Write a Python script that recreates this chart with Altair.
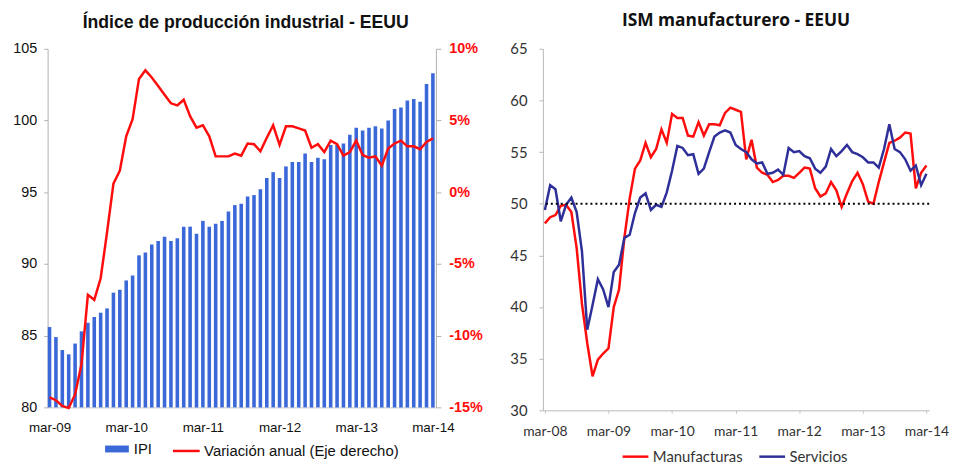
import altair as alt
import pandas as pd

# ---------------- data: left panel (IPI, mar-09 .. mar-14) ----------------
ipi_ticks = ["mar-09", "mar-10", "mar-11", "mar-12", "mar-13", "mar-14"]
ipi = [85.6, 84.9, 84.0, 83.7, 84.45, 85.3, 85.9, 86.3, 86.6, 86.9,
       88.0, 88.2, 88.85, 89.2, 90.6, 90.8, 91.35, 91.6, 91.9, 91.6,
       91.8, 92.6, 92.6, 92.1, 93.0, 92.6, 92.8, 93.0, 93.65, 94.1,
       94.2, 94.7, 94.8, 95.2, 96.0, 96.4, 96.0, 96.8, 97.1, 97.1,
       97.7, 97.1, 97.4, 97.3, 98.3, 98.3, 98.4, 99.0, 99.5, 99.3,
       99.5, 99.6, 99.45, 100.0, 100.8, 100.9, 101.4, 101.5, 101.3, 102.55,
       103.3]
ipi_var = [-14.3, -14.5, -14.9, -15.05, -14.1, -12.0, -7.15, -7.5, -6.0, -2.8,
           0.6, 1.5, 3.9, 5.1, 7.9, 8.5, 8.0, 7.4, 6.8, 6.2,
           6.05, 6.45, 5.3, 4.5, 4.67, 3.9, 2.5, 2.5, 2.5, 2.7,
           2.55, 3.4, 3.35, 2.85, 3.8, 4.67, 3.3, 4.6, 4.6, 4.45,
           4.3, 3.1, 3.35, 2.8, 3.6, 3.35, 2.55, 2.8, 3.6, 2.6,
           2.4, 2.5, 1.85, 3.05, 3.4, 3.6, 3.2, 3.2, 3.0, 3.5,
           3.75]

# ---------------- data: right panel (ISM, mar-08 .. mar-14) ----------------
ism_ticks = ["mar-08", "mar-09", "mar-10", "mar-11", "mar-12", "mar-13", "mar-14"]
manufacturas = [48.1, 48.7, 48.9, 49.8, 49.9, 49.2, 45.7, 40.3, 36.5, 33.3,
                34.9, 35.5, 36.0, 40.0, 41.7, 46.7, 50.5, 53.4, 54.2, 55.9,
                54.5, 55.3, 57.2, 55.9, 58.7, 58.3, 58.3, 56.6, 56.5, 57.9,
                56.6, 57.7, 57.7, 57.6, 58.8, 59.3, 59.1, 58.9, 54.3, 56.2,
                53.5, 53.0, 52.8, 52.1, 52.3, 52.7, 52.7, 52.5, 53.0, 53.5,
                53.4, 51.5, 50.7, 51.0, 52.1, 51.3, 49.7, 51.0, 52.2, 53.0,
                51.9, 50.2, 50.0, 52.1, 54.0, 55.9, 56.1, 56.4, 56.9, 56.8,
                51.5, 53.0, 53.7]
servicios = [49.4, 51.8, 51.4, 48.3, 49.9, 50.6, 49.2, 45.4, 37.8, 40.2,
             42.7, 41.7, 40.0, 43.4, 44.1, 46.7, 47.0, 49.1, 50.6, 51.0,
             49.4, 49.9, 49.7, 51.1, 53.2, 55.6, 55.4, 54.7, 54.8, 52.9,
             53.4, 55.0, 56.5, 56.9, 57.1, 56.9, 55.7, 55.3, 55.0, 54.3,
             53.9, 54.0, 52.9, 53.0, 53.3, 52.8, 55.4, 55.0, 55.1, 54.6,
             54.4, 53.4, 53.0, 53.6, 55.3, 54.6, 55.1, 55.7, 55.0, 54.8,
             54.5, 54.0, 54.0, 53.5, 55.3, 57.7, 55.3, 55.0, 54.3, 53.2,
             53.7, 51.8, 52.9]
threshold = 50

series_names = ["Manufacturas", "Servicios"]
ipi_names = ["IPI", "Variación anual (Eje derecho)"]

BLUE_BAR = "#3a68d8"
RED = "#ff0d0d"
NAVY = "#2e2f98"

ARIAL = "Liberation Sans"
LATO = "Lato"
OPEN = "Open Sans"

# ---------------- left chart ----------------
left_df = pd.DataFrame({
    "i": list(range(len(ipi))),
    "ipi": ipi,
    "var": ipi_var,
    "s_ipi": ipi_names[0],
    "s_var": ipi_names[1],
})

ipi_label_expr = "[" + ",".join("'%s'" % t for t in ipi_ticks) + "][round(datum.value/12)]"
xl = alt.X("i:Q",
           scale=alt.Scale(domain=[-0.3, 60.47], nice=False, zero=False, padding=0),
           axis=alt.Axis(values=[0, 12, 24, 36, 48, 60], labelExpr=ipi_label_expr,
                         title=None, grid=False, ticks=False, tickSize=0,
                         labelFlush=False, labelOverlap=False,
                         domainColor="#c8c8c8", labelFont=ARIAL, labelFontSize=13.5,
                         labelColor="#111", labelPadding=13))

bars = alt.Chart(left_df).mark_bar(width=3.6).encode(
    x=xl,
    y=alt.Y("ipi:Q",
            scale=alt.Scale(domain=[80, 105], nice=False, zero=False),
            axis=alt.Axis(values=[80, 85, 90, 95, 100, 105], title=None, grid=False,
                          domainColor="#b0b0b0", tickColor="#b0b0b0", tickSize=4,
                          labelPadding=7, labelFont=ARIAL, labelFontSize=14.5,
                          labelColor="#111", minExtent=40, maxExtent=40)),
    y2=alt.datum(80),
    color=alt.Color("s_ipi:N",
                    scale=alt.Scale(domain=[ipi_names[0]], range=[BLUE_BAR]),
                    legend=alt.Legend(orient="none", legendX=57, legendY=391, title=None,
                                      symbolType="M-1,-0.29H1V0.29H-1Z", symbolSize=576,
                                      labelFont=ARIAL, labelFontSize=15, labelColor="#111",
                                      labelOffset=4, labelLimit=0)),
)

line_l = alt.Chart(left_df).mark_line(strokeWidth=2.5).encode(
    x=xl,
    y=alt.Y("var:Q",
            scale=alt.Scale(domain=[-15, 10], nice=False, zero=False),
            axis=alt.Axis(orient="right", values=[-15, -10, -5, 0, 5, 10],
                          labelExpr="datum.value + '%'", title=None, grid=False,
                          domainColor="#b0b0b0", tickColor="#b0b0b0", tickSize=5,
                          labelPadding=8, labelFont=ARIAL, labelFontSize=14.5,
                          labelFontWeight="bold", labelColor=RED)),
    stroke=alt.Stroke("s_var:N",
                      scale=alt.Scale(domain=[ipi_names[1]], range=[RED]),
                      legend=alt.Legend(orient="none", legendX=125, legendY=391, title=None,
                                        symbolType="stroke", symbolSize=729,
                                        symbolStrokeWidth=2.5,
                                        labelFont=ARIAL, labelFontSize=15, labelColor="#111",
                                        labelOffset=3, labelLimit=0)),
)

left = alt.layer(bars, line_l).resolve_scale(y="independent").properties(
    width=392, height=362,
    title=alt.TitleParams("Índice de producción industrial  - EEUU", font=ARIAL,
                          fontSize=17.8, fontWeight="bold", color="#111",
                          anchor="middle", offset=9, dx=4),
)

# ---------------- right chart ----------------
n = len(manufacturas)
right_df = pd.DataFrame({
    "j": list(range(n)) * 2,
    "v": manufacturas + servicios,
    "serie": [series_names[0]] * n + [series_names[1]] * n,
})

ism_label_expr = "[" + ",".join("'%s'" % t for t in ism_ticks) + "][round(datum.value/12)]"
xr = alt.X("j:Q",
           scale=alt.Scale(domain=[-0.374, 72.52], nice=False, zero=False),
           axis=alt.Axis(values=[0, 12, 24, 36, 48, 60, 72], labelExpr=ism_label_expr,
                         title=None, grid=False, tickSize=3, tickColor="#c8c8c8",
                         labelFlush=False, labelOverlap=False,
                         domainColor="#b8b8b8", labelFont=LATO, labelFontSize=14,
                         labelColor="#333", labelPadding=11))
yr = alt.Y("v:Q",
           scale=alt.Scale(domain=[30, 65], nice=False, zero=False),
           axis=alt.Axis(values=[30, 35, 40, 45, 50, 55, 60, 65], title=None, grid=False,
                         domainColor="#b8b8b8", tickColor="#b8b8b8", tickSize=4,
                         labelPadding=12, labelFont=LATO, labelFontSize=15,
                         labelColor="#333", minExtent=33, maxExtent=33))

lines_r = alt.Chart(right_df).mark_line(strokeWidth=2.5).encode(
    x=xr,
    y=yr,
    color=alt.Color("serie:N",
                    scale=alt.Scale(domain=series_names, range=[RED, NAVY]),
                    legend=alt.Legend(orient="none", legendX=79, legendY=397, title=None,
                                      direction="horizontal", columns=2,
                                      symbolType="stroke", symbolSize=676,
                                      symbolStrokeWidth=2.5, columnPadding=11,
                                      labelFont=LATO, labelFontSize=15, labelColor="#333",
                                      labelOffset=3, labelLimit=0)),
)

rule = alt.Chart(pd.DataFrame({"t": [threshold]})).mark_rule(
    color="black", strokeWidth=2, strokeDash=[2, 3]
).encode(y=alt.Y("t:Q"))

right = alt.layer(lines_r, rule).properties(
    width=390, height=365,
    title=alt.TitleParams("ISM manufacturero - EEUU", font=OPEN, fontSize=17.5,
                          fontWeight="bold", color="#111", anchor="middle", offset=12.5),
)

chart = alt.hconcat(left, right, spacing=27).resolve_scale(
    color="independent", stroke="independent", x="independent", y="independent"
).properties(
    padding={"left": 0, "top": 2, "right": 0, "bottom": 0},
    background="white",
).configure_view(stroke=None)

chart.save("out.html", embed_options={"renderer": "svg", "actions": False})
